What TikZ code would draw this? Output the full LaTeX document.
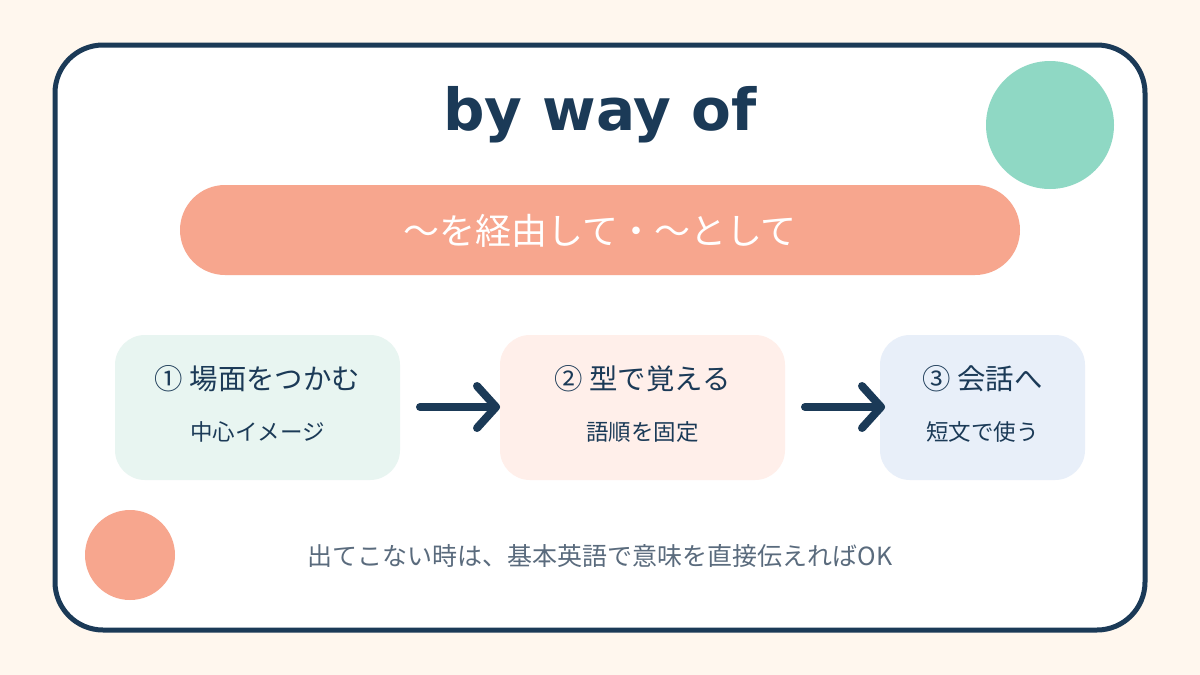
\documentclass[tikz,border=0pt]{standalone}
\usepackage{fontspec}
\usetikzlibrary{calc}
\newfontfamily\jp{Noto Sans CJK JP}
\newfontfamily\titlefont{DejaVu Sans}
\definecolor{bgc}{HTML}{FFF7EE}
\definecolor{navy}{HTML}{1B3A57}
\definecolor{mint}{HTML}{8FD8C4}
\definecolor{coral}{HTML}{F7A68E}
\definecolor{boxa}{HTML}{E8F5F1}
\definecolor{boxb}{HTML}{FFEFEA}
\definecolor{boxc}{HTML}{E8EFF9}
\definecolor{note}{HTML}{5A6B7D}
\tikzset{
  arrowline/.style={draw=navy, line width=8pt, line cap=round, line join=round},
  lineone/.style={font=\jp\fontsize{28.4}{34}\selectfont, text=navy},
  linetwo/.style={font=\jp\fontsize{22.5}{27}\selectfont, text=navy},
}
\begin{document}
\begin{tikzpicture}[x=1pt,y=-1pt]
\useasboundingbox (0,0) rectangle (1200,675);
\fill[bgc] (0,0) rectangle (1200,675);
\draw[navy, line width=5pt, fill=white, rounded corners=48pt] (55,45) rectangle (1145,630);
\fill[mint] (1050,125) circle (64);
\fill[coral] (130,555) circle (45);
\node[font=\titlefont\bfseries\fontsize{58}{68}\selectfont, text=navy] (title) at (600,115) {by way of};
\fill[coral, rounded corners=45pt] (180,185) rectangle (1020,275);
\node[font=\jp\fontsize{36}{42}\selectfont, text=white] (sub) at (600,231) {～を経由して・～として};
\fill[boxa, rounded corners=30pt] (115,335) rectangle (400,480);
\fill[boxb, rounded corners=30pt] (500,335) rectangle (785,480);
\fill[boxc, rounded corners=30pt] (880,335) rectangle (1085,480);
\node[lineone] (t1) at (257.5,379) {① 場面をつかむ};
\node[linetwo] (s1) at (257.5,432) {中心イメージ};
\node[lineone] (t2) at (642.5,379) {② 型で覚える};
\node[linetwo] (s2) at (642.5,432) {語順を固定};
\node[lineone] (t3) at (982.5,379) {③ 会話へ};
\node[linetwo] (s3) at (982.5,432) {短文で使う};
\coordinate (a1s) at (420,407);
\coordinate (a1e) at (496,407);
\coordinate (a2s) at (805,407);
\coordinate (a2e) at (881,407);
\draw[arrowline] (a1s) -- (a1e);
\draw[arrowline] ($(a1e)+(-19,-21)$) -- (a1e) -- ($(a1e)+(-19,21)$);
\draw[arrowline] (a2s) -- (a2e);
\draw[arrowline] ($(a2e)+(-19,-21)$) -- (a2e) -- ($(a2e)+(-19,21)$);
\node[font=\jp\fontsize{25}{30}\selectfont, text=note] (foot) at (600,556) {出てこない時は、基本英語で意味を直接伝えればOK};
\end{tikzpicture}
\end{document}
